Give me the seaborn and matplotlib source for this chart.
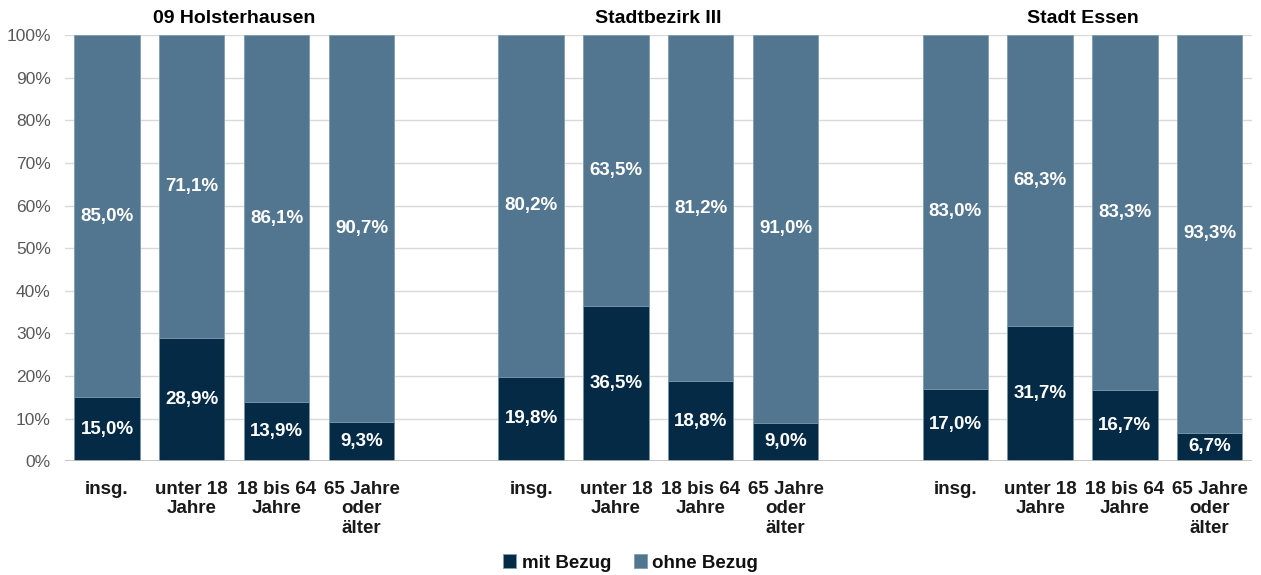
import pandas as pd
import matplotlib.pyplot as plt
import seaborn as sns

groups = ['09 Holsterhausen', 'Stadtbezirk III', 'Stadt Essen']
categories = ['insg.', 'unter 18\nJahre', '18 bis 64\nJahre', '65 Jahre\noder\nälter']
mit_bezug = [15.0, 28.9, 13.9, 9.3,
             19.8, 36.5, 18.8, 9.0,
             17.0, 31.7, 16.7, 6.7]
ohne_bezug = [85.0, 71.1, 86.1, 90.7,
              80.2, 63.5, 81.2, 91.0,
              83.0, 68.3, 83.3, 93.3]

dark = '#052a46'
light = '#52768f'

# slot positions: 4 bars per group, one empty slot between groups
pos = [g * 5 + i for g in range(len(groups)) for i in range(len(categories))]
df = pd.DataFrame({
    'pos': pos,
    'label': categories * len(groups),
    'mit': mit_bezug,
    'ohne': ohne_bezug,
})
df['total'] = df['mit'] + df['ohne']

sns.set_style('white')
plt.rcParams['font.family'] = ['Liberation Sans', 'DejaVu Sans']

fig = plt.figure(figsize=(12.61, 5.75), dpi=100)
ax = fig.add_axes([0.0512, 0.198, 0.9418, 0.741])

sns.barplot(data=df, x='pos', y='total', native_scale=True, width=0.77,
            color=light, saturation=1, edgecolor='#7f9db3', linewidth=0.6,
            ax=ax, label='ohne Bezug', zorder=2)
sns.barplot(data=df, x='pos', y='mit', native_scale=True, width=0.77,
            color=dark, saturation=1, edgecolor='#7f9db3', linewidth=0.6,
            ax=ax, label='mit Bezug', zorder=3)

handles, labels = ax.get_legend_handles_labels()
if ax.get_legend() is not None:
    ax.get_legend().remove()

for _, r in df.iterrows():
    ax.text(r['pos'], r['mit'] / 2, f"{r['mit']:.1f}%".replace('.', ','),
            ha='center', va='center', color='white', fontsize=13.5,
            fontweight='bold', zorder=4)
    ax.text(r['pos'], r['mit'] + r['ohne'] / 2, f"{r['ohne']:.1f}%".replace('.', ','),
            ha='center', va='center', color='white', fontsize=13.5,
            fontweight='bold', zorder=4)

ax.set_xlim(-0.5, 13.5)
ax.set_ylim(0, 100)
ax.set_yticks(range(0, 101, 10))
ax.set_yticklabels([f'{v}%' for v in range(0, 101, 10)], color='#595959', fontsize=12.5)
ax.yaxis.grid(True, color='#d9d9d9', linewidth=1, zorder=0)
ax.set_axisbelow(True)
ax.axhline(0, color='#bfbfbf', linewidth=1.2, zorder=5)
for s in ax.spines.values():
    s.set_visible(False)
ax.tick_params(axis='y', length=0, pad=10)

ax.set_xticks(df['pos'])
ax.set_xticklabels(df['label'], fontsize=13.5, fontweight='bold', color='#1a1a1a',
                   linespacing=1.22, va='top')
ax.tick_params(axis='x', length=0, pad=14)
ax.set_xlabel('')
ax.set_ylabel('')

for g, name in enumerate(groups):
    ax.text(g * 5 + 1.5, 102, name, ha='center', va='bottom', fontsize=14,
            fontweight='bold', color='black')

order = [labels.index('mit Bezug'), labels.index('ohne Bezug')]
fig.legend([handles[i] for i in order], [labels[i] for i in order],
           loc='center', bbox_to_anchor=(0.5, 1 - 563 / 575), ncol=2, frameon=False,
           prop={'weight': 'bold', 'size': 13.5}, labelcolor='#111111',
           handlelength=0.7, handleheight=0.7, handletextpad=0.3, columnspacing=1.2)

fig.savefig('out.png', dpi=100)
